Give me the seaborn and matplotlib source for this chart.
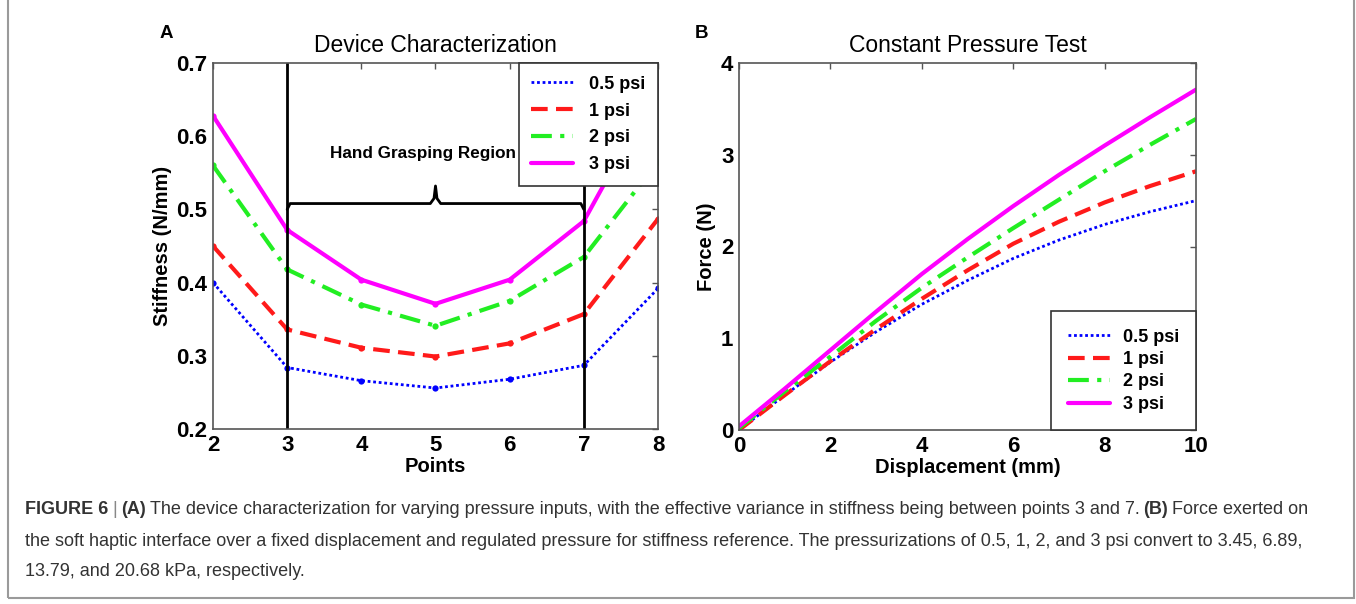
import matplotlib
matplotlib.use("Agg")
import matplotlib.pyplot as plt
import matplotlib.patches as mpatches
from matplotlib.lines import Line2D
from matplotlib.transforms import IdentityTransform
import seaborn as sns
import numpy as np

# ---- panel A data: stiffness at the measuring points
points = [2, 3, 4, 5, 6, 7, 8]
stiff_05 = [0.400, 0.284, 0.266, 0.256, 0.268, 0.287, 0.392]
stiff_1 = [0.450, 0.336, 0.311, 0.299, 0.317, 0.357, 0.487]
stiff_2 = [0.560, 0.418, 0.370, 0.341, 0.375, 0.435, 0.565]
stiff_3 = [0.628, 0.472, 0.404, 0.371, 0.404, 0.484, 0.668]

# ---- panel B data: force over displacement
displacement = [0, 1, 2, 3, 4, 5, 6, 7, 8, 9, 10]
force_05 = [0.00, 0.38, 0.74, 1.07, 1.37, 1.63, 1.87, 2.07, 2.24, 2.38, 2.50]
force_1 = [0.00, 0.38, 0.75, 1.10, 1.43, 1.74, 2.03, 2.27, 2.48, 2.66, 2.82]
force_2 = [0.02, 0.42, 0.80, 1.19, 1.55, 1.88, 2.20, 2.51, 2.82, 3.11, 3.39]
force_3 = [0.04, 0.45, 0.87, 1.29, 1.70, 2.08, 2.44, 2.78, 3.10, 3.41, 3.71]

labels = ["0.5 psi", "1 psi", "2 psi", "3 psi"]
colors = ["#0000ff", "#ff1a1a", "#22ee22", "#ff00ff"]
styles = [(0, (1, 1)), (0, (4, 2)), (0, (5, 2, 1, 2)), "-"]
widths = [2.0, 3.0, 3.0, 3.0]

region = (3, 7)  # hand grasping region between points 3 and 7

sns.set_style("white")
plt.rcParams["font.family"] = ["Liberation Sans", "DejaVu Sans"]
plt.rcParams["text.color"] = "black"
plt.rcParams["axes.labelcolor"] = "black"
plt.rcParams["xtick.color"] = "black"
plt.rcParams["ytick.color"] = "black"

fig = plt.figure(figsize=(13.56, 6.04), dpi=100)
ax_a = fig.add_axes([213 / 1356, 1 - 429 / 604, 445 / 1356, 366 / 604])
ax_b = fig.add_axes([739 / 1356, 1 - 430 / 604, 457 / 1356, 367 / 604])

# panel A
for vals, c, ls, lw in zip([stiff_05, stiff_1, stiff_2, stiff_3], colors, styles, widths):
    sns.lineplot(x=points, y=vals, ax=ax_a, color=c, linestyle=ls, linewidth=lw,
                 marker="o", markersize=4.5, markeredgewidth=0)

ax_a.axvline(region[0], color="black", lw=2)
ax_a.axvline(region[1], color="black", lw=2)
brace_y, brace_peak = 0.508, 0.532
mid = (region[0] + region[1]) / 2
bx = [region[0], region[0] + 0.04, mid - 0.07, mid - 0.02, mid, mid + 0.02, mid + 0.07,
      region[1] - 0.04, region[1]]
by = [brace_y - 0.008, brace_y, brace_y, brace_y + 0.007, brace_peak, brace_y + 0.007,
      brace_y, brace_y, brace_y - 0.008]
ax_a.plot(bx, by, color="black", lw=2)
ax_a.text(4.83, 0.577, "Hand Grasping Region", ha="center", va="center",
          fontsize=12.3, fontweight="bold")

ax_a.set_xlim(2, 8)
ax_a.set_ylim(0.2, 0.7)
ax_a.set_xticks(points)
ax_a.set_yticks([0.2, 0.3, 0.4, 0.5, 0.6, 0.7])
ax_a.set_title("Device Characterization", fontsize=16.5, pad=8)
ax_a.set_xlabel("Points", fontsize=14.5, fontweight="bold", labelpad=1)
ax_a.set_ylabel("Stiffness (N/mm)", fontsize=14.5, fontweight="bold", labelpad=3)

# panel B
for vals, c, ls, lw in zip([force_05, force_1, force_2, force_3], colors, styles, widths):
    sns.lineplot(x=displacement, y=vals, ax=ax_b, color=c, linestyle=ls, linewidth=lw)

ax_b.set_xlim(0, 10)
ax_b.set_ylim(0, 4)
ax_b.set_xticks([0, 2, 4, 6, 8, 10])
ax_b.set_yticks([0, 1, 2, 3, 4])
ax_b.set_title("Constant Pressure Test", fontsize=16.5, pad=8)
ax_b.set_xlabel("Displacement (mm)", fontsize=14.5, fontweight="bold", labelpad=1)
ax_b.set_ylabel("Force (N)", fontsize=14.5, fontweight="bold", labelpad=4)

proxies = [Line2D([], [], color=c, linestyle=ls, linewidth=lw)
           for c, ls, lw in zip(colors, styles, widths)]

for ax, loc, spacing, bpad, tpad in [(ax_a, "upper right", 0.55, 0.7, 0.9),
                                     (ax_b, "lower right", 0.3, 0.95, 0.7)]:
    ax.tick_params(direction="in", top=True, right=True, length=4, width=1,
                   color="#555555", labelsize=16, pad=4)
    for lab in ax.get_xticklabels() + ax.get_yticklabels():
        lab.set_fontweight("bold")
    for sp in ax.spines.values():
        sp.set_color("#555555")
        sp.set_linewidth(1.2)
    leg = ax.legend(proxies, labels, loc=loc, frameon=True, fancybox=False, borderaxespad=0,
                    handlelength=2.3, handletextpad=tpad, labelspacing=spacing, borderpad=bpad,
                    framealpha=1, prop={"weight": "bold", "size": 13})
    leg.get_frame().set_edgecolor("#333333")
    leg.get_frame().set_linewidth(1.2)

fig.text(160 / 1356, 1 - 33 / 604, "A", fontsize=13.5, fontweight="bold", va="center")
fig.text(695 / 1356, 1 - 33 / 604, "B", fontsize=13.5, fontweight="bold", va="center")

# outer frame
fig.patches.append(mpatches.Rectangle((8, 6), 1346, 620, transform=IdentityTransform(),
                                      fill=False, edgecolor="#9a9a9a", lw=1.5))

# caption with mixed weights
cap_size = 13
cap_color = "#333333"
renderer = fig.canvas.get_renderer()


def caption_line(segments, y):
    x = 25
    for txt, weight, col in segments:
        t = fig.text(x, y, txt, transform=IdentityTransform(), fontsize=cap_size,
                     fontweight=weight, color=col, va="center")
        x = t.get_window_extent(renderer).x1 + 4


caption_line([("FIGURE 6", "bold", cap_color), ("|", "normal", "#888888"),
              ("(A)", "bold", cap_color),
              ("The device characterization for varying pressure inputs, with the effective variance in "
               "stiffness being between points 3 and 7.", "normal", cap_color),
              ("(B)", "bold", cap_color), ("Force exerted on", "normal", cap_color)], 94)
caption_line([("the soft haptic interface over a fixed displacement and regulated pressure for stiffness "
               "reference. The pressurizations of 0.5, 1, 2, and 3 psi convert to 3.45, 6.89,",
               "normal", cap_color)], 63)
caption_line([("13.79, and 20.68 kPa, respectively.", "normal", cap_color)], 33)

fig.savefig("out.png", dpi=100)
